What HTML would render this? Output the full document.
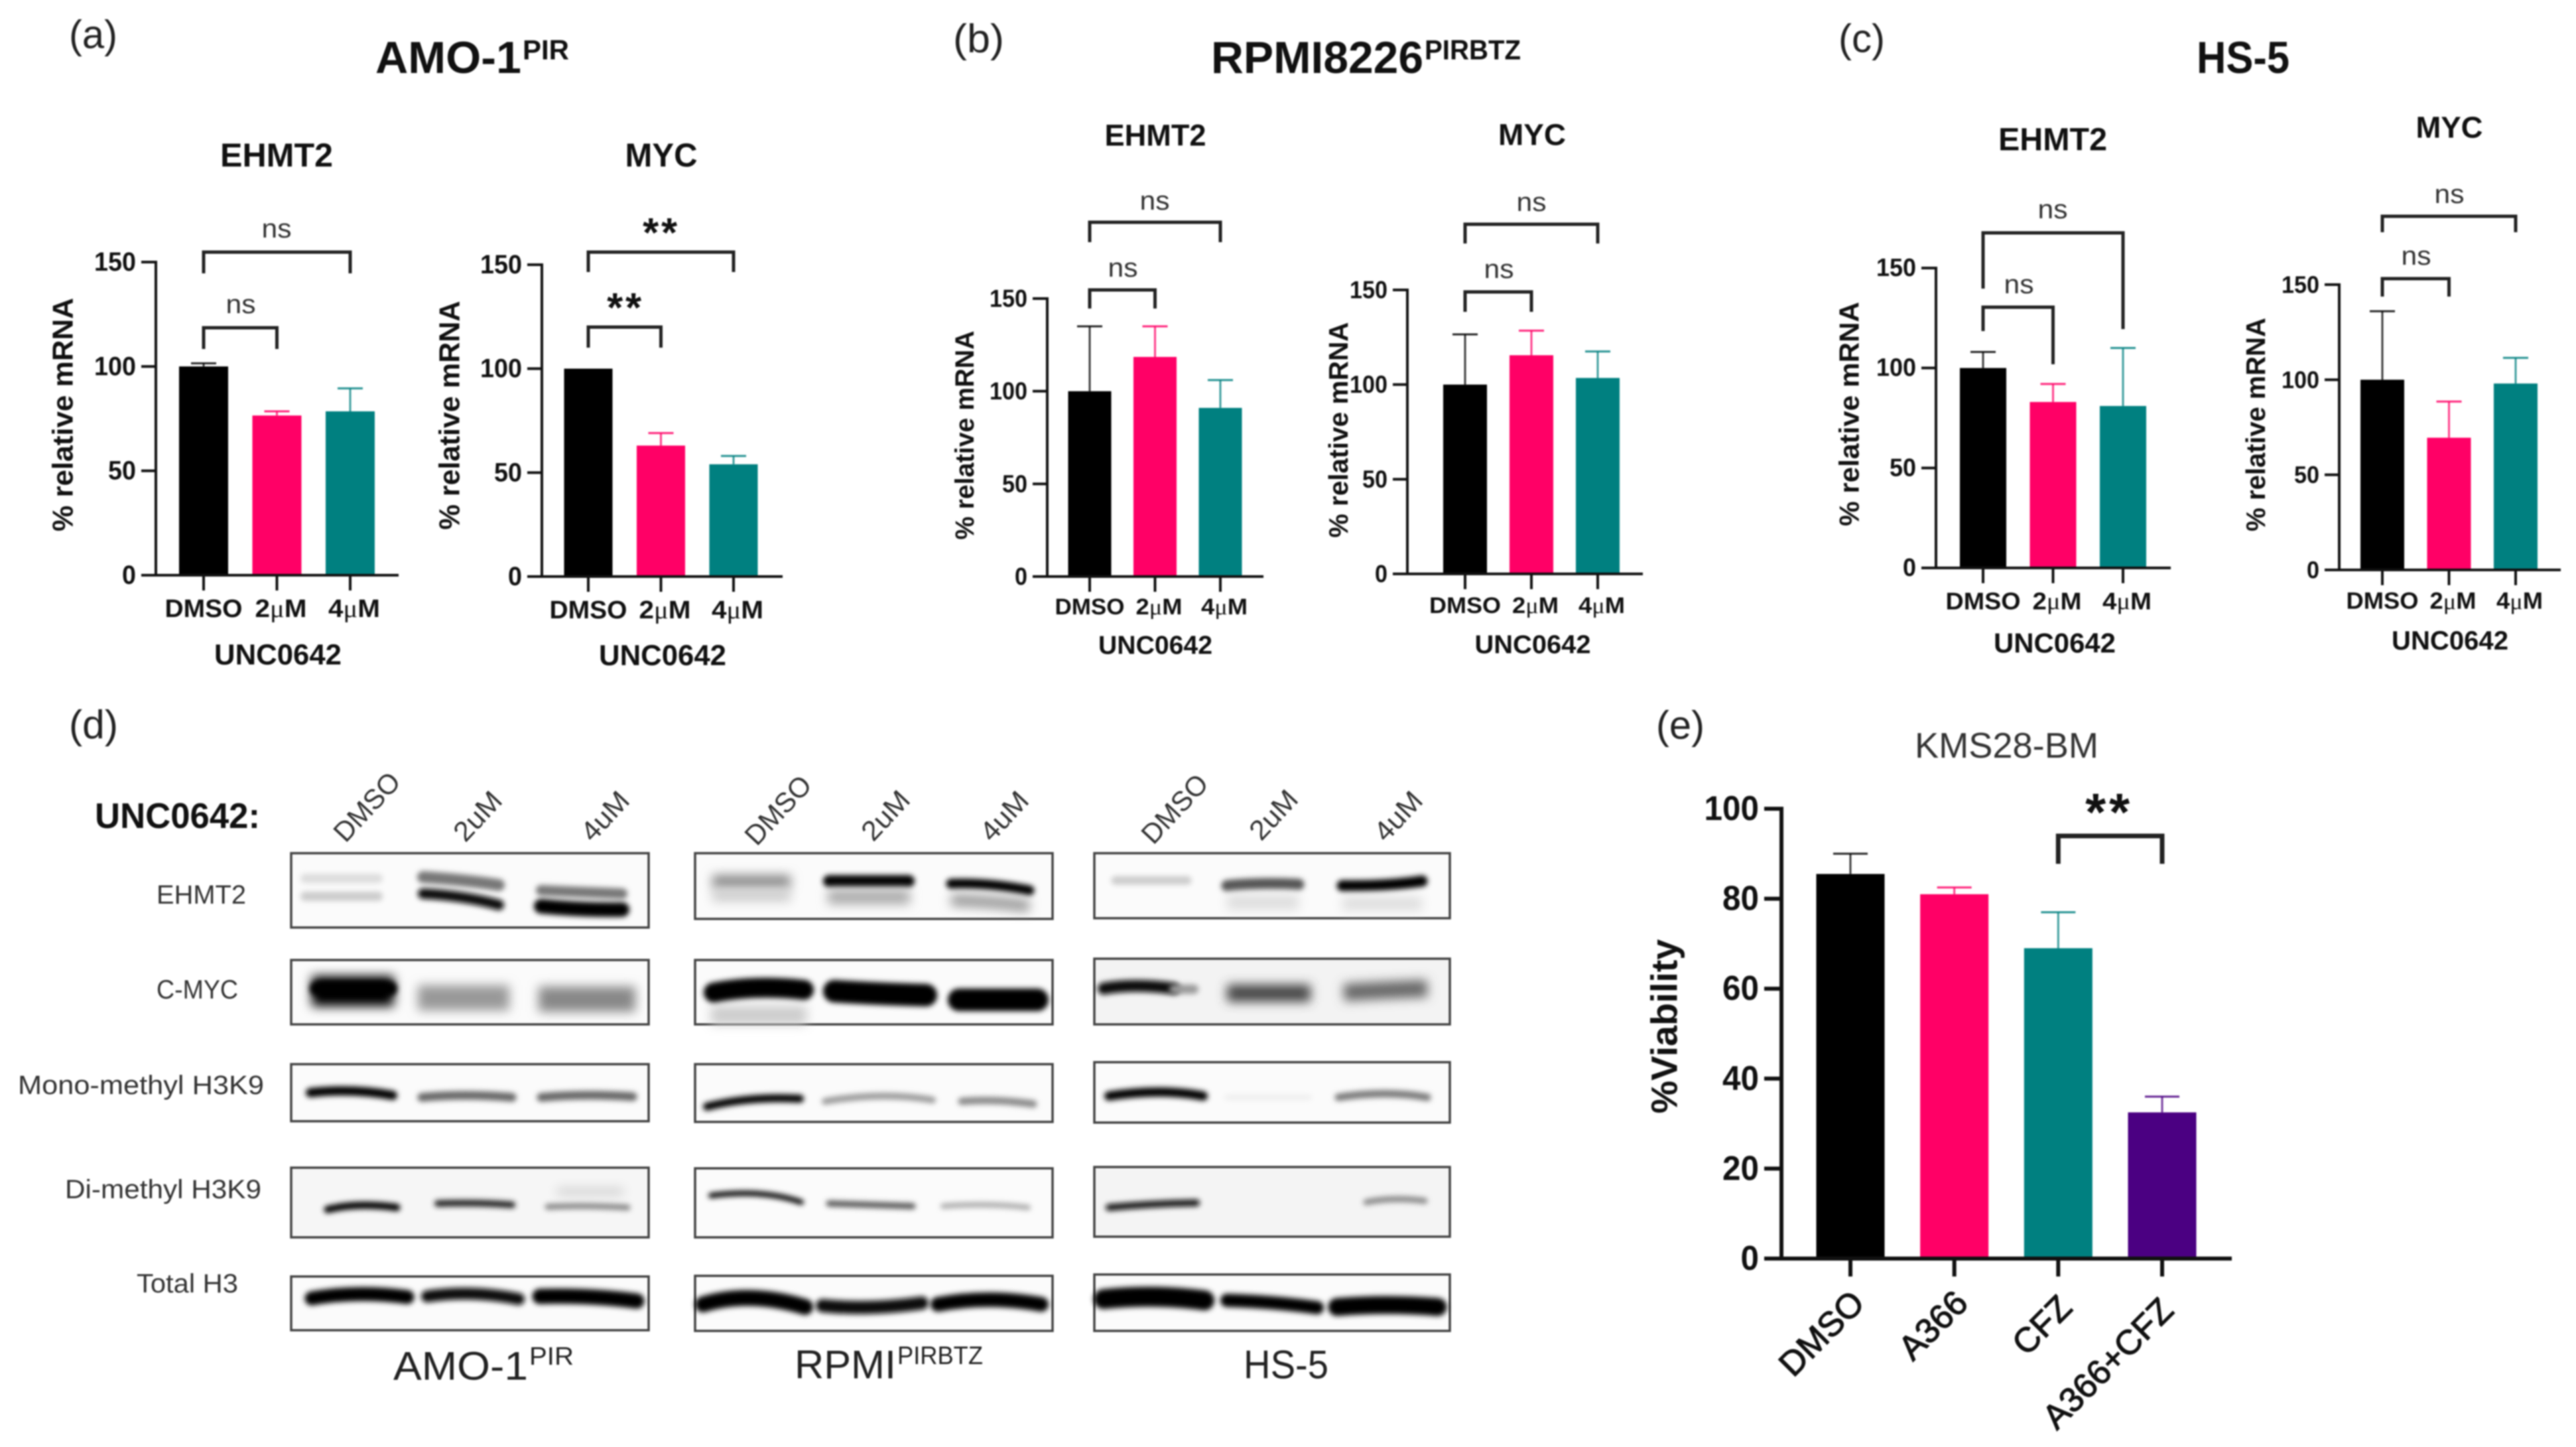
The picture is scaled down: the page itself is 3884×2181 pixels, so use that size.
<!DOCTYPE html>
<html lang="en">
<head>
<meta charset="utf-8">
<title>UNC0642 mRNA, western blot and viability figure</title>
<style>
html,body{margin:0;padding:0;background:#fff;}
body{width:3884px;height:2181px;overflow:hidden;}
svg{display:block;font-family:"Liberation Sans",sans-serif;filter:blur(1px);}
.bl{fill:none;stroke-linecap:round;filter:url(#f3);}
.hz{fill:none;stroke-linecap:butt;filter:url(#f8);}
.pn{fill:#fbfbfb;stroke:#444;stroke-width:3.5;}
.lab{fill:#333;font-size:40px;dominant-baseline:central;}
.rot{fill:#333;font-size:42px;text-anchor:middle;dominant-baseline:central;}
.pl{fill:#222;font-size:60px;dominant-baseline:central;}
</style>
</head>
<body>
<svg id="fig" xmlns="http://www.w3.org/2000/svg" width="3884" height="2181" viewBox="0 0 3884 2181">
<defs>
<filter id="f3" filterUnits="userSpaceOnUse" x="0" y="1200" width="2300" height="900"><feGaussianBlur stdDeviation="4"/></filter>
<filter id="f8" filterUnits="userSpaceOnUse" x="0" y="1200" width="2300" height="900"><feGaussianBlur stdDeviation="8"/></filter>
</defs>
<rect width="3884" height="2181" fill="#fff"/>

<text class="pl" x="104" y="52" textLength="73" lengthAdjust="spacingAndGlyphs">(a)</text>
<text class="pl" x="1437" y="58" textLength="77" lengthAdjust="spacingAndGlyphs">(b)</text>
<text class="pl" x="2772" y="58" textLength="70" lengthAdjust="spacingAndGlyphs">(c)</text>
<text class="pl" x="104" y="1092" textLength="74" lengthAdjust="spacingAndGlyphs">(d)</text>
<text class="pl" x="2497" y="1093" textLength="73" lengthAdjust="spacingAndGlyphs">(e)</text>

<text x="566" y="87" font-size="68" font-weight="bold" fill="#111" dominant-baseline="central" textLength="220" lengthAdjust="spacingAndGlyphs">AMO-1</text>
<text x="788" y="75" font-size="42" font-weight="bold" fill="#111" dominant-baseline="central" textLength="70" lengthAdjust="spacingAndGlyphs">PIR</text>
<text x="1826" y="87" font-size="68" font-weight="bold" fill="#111" dominant-baseline="central" textLength="320" lengthAdjust="spacingAndGlyphs">RPMI8226</text>
<text x="2148" y="75" font-size="42" font-weight="bold" fill="#111" dominant-baseline="central" textLength="145" lengthAdjust="spacingAndGlyphs">PIRBTZ</text>
<text x="3312" y="87" font-size="68" font-weight="bold" fill="#111" dominant-baseline="central" textLength="140" lengthAdjust="spacingAndGlyphs">HS-5</text>

<text x="143" y="1230" font-size="54" font-weight="bold" fill="#111" dominant-baseline="central" textLength="249" lengthAdjust="spacingAndGlyphs">UNC0642:</text>

<text class="rot" transform="translate(553 1216) rotate(-47)" textLength="125" lengthAdjust="spacingAndGlyphs">DMSO</text>
<text class="rot" transform="translate(720 1230) rotate(-47)" textLength="85" lengthAdjust="spacingAndGlyphs">2uM</text>
<text class="rot" transform="translate(912 1230) rotate(-47)" textLength="85" lengthAdjust="spacingAndGlyphs">4uM</text>
<text class="rot" transform="translate(1173 1221) rotate(-47)" textLength="125" lengthAdjust="spacingAndGlyphs">DMSO</text>
<text class="rot" transform="translate(1335 1229) rotate(-47)" textLength="85" lengthAdjust="spacingAndGlyphs">2uM</text>
<text class="rot" transform="translate(1514 1230) rotate(-47)" textLength="85" lengthAdjust="spacingAndGlyphs">4uM</text>
<text class="rot" transform="translate(1771 1219) rotate(-47)" textLength="125" lengthAdjust="spacingAndGlyphs">DMSO</text>
<text class="rot" transform="translate(1920 1228) rotate(-47)" textLength="85" lengthAdjust="spacingAndGlyphs">2uM</text>
<text class="rot" transform="translate(2108 1230) rotate(-47)" textLength="85" lengthAdjust="spacingAndGlyphs">4uM</text>

<text class="lab" x="236" y="1349" textLength="135" lengthAdjust="spacingAndGlyphs">EHMT2</text>
<text class="lab" x="236" y="1492" textLength="123" lengthAdjust="spacingAndGlyphs">C-MYC</text>
<text class="lab" x="27" y="1636" textLength="371" lengthAdjust="spacingAndGlyphs">Mono-methyl H3K9</text>
<text class="lab" x="98" y="1793" textLength="296" lengthAdjust="spacingAndGlyphs">Di-methyl H3K9</text>
<text class="lab" x="206" y="1935" textLength="153" lengthAdjust="spacingAndGlyphs">Total H3</text>

<!-- AMO-1 blots -->
<g>
<rect class="pn" x="439" y="1286" width="539" height="112"/>
<path class="bl" d="M460 1324H570" stroke="#ddd" stroke-width="14"/>
<path class="bl" d="M460 1351H570" stroke="#ccc" stroke-width="14"/>
<path class="bl" d="M638 1322Q700 1326 752 1334" stroke="#777" stroke-width="18"/>
<path class="bl" d="M638 1347Q700 1350 752 1364" stroke="#111" stroke-width="16"/>
<path class="bl" d="M816 1342Q880 1345 938 1347" stroke="#777" stroke-width="16"/>
<path class="bl" d="M816 1366Q880 1372 938 1371" stroke="#000" stroke-width="22"/>
</g>
<g>
<rect class="pn" x="439" y="1447" width="539" height="97"/>
<path class="hz" d="M470 1494H594" stroke="#000" stroke-width="46"/>
<path class="bl" d="M478 1490H588" stroke="#000" stroke-width="22"/>
<path class="hz" d="M630 1504H768" stroke="#999" stroke-width="38"/>
<path class="hz" d="M812 1506H958" stroke="#888" stroke-width="38"/>
</g>
<g>
<rect class="pn" x="439" y="1604" width="539" height="86"/>
<path class="bl" d="M468 1647Q530 1640 592 1651" stroke="#000" stroke-width="14"/>
<path class="bl" d="M636 1654Q700 1648 772 1654" stroke="#666" stroke-width="13"/>
<path class="bl" d="M816 1654Q880 1648 954 1653" stroke="#666" stroke-width="13"/>
</g>
<g>
<rect class="pn" x="439" y="1760" width="539" height="105" style="fill:#f6f6f6"/>
<path class="bl" d="M494 1823Q540 1812 598 1820" stroke="#000" stroke-width="11"/>
<path class="bl" d="M660 1814Q720 1812 772 1816" stroke="#222" stroke-width="10"/>
<path class="bl" d="M826 1819Q880 1816 946 1820" stroke="#888" stroke-width="9"/>
<path class="hz" d="M840 1796H940" stroke="#ccc" stroke-width="10"/>
</g>
<g>
<rect class="pn" x="439" y="1924" width="539" height="81"/>
<path class="bl" d="M470 1957Q540 1945 614 1955" stroke="#000" stroke-width="21"/>
<path class="bl" d="M644 1954Q710 1944 782 1958" stroke="#111" stroke-width="18"/>
<path class="bl" d="M814 1954Q890 1952 960 1961" stroke="#000" stroke-width="23"/>
</g>

<!-- RPMI blots -->
<g>
<rect class="pn" x="1048" y="1286" width="539" height="99"/>
<path class="hz" d="M1074 1329H1192" stroke="#888" stroke-width="20"/>
<path class="hz" d="M1074 1350H1192" stroke="#ccc" stroke-width="18"/>
<path class="bl" d="M1250 1328H1370" stroke="#000" stroke-width="18"/>
<path class="hz" d="M1248 1352H1372" stroke="#aaa" stroke-width="22"/>
<path class="bl" d="M1434 1332Q1490 1330 1552 1342" stroke="#000" stroke-width="15"/>
<path class="hz" d="M1434 1357Q1490 1358 1552 1366" stroke="#999" stroke-width="18"/>
</g>
<g>
<rect class="pn" x="1048" y="1447" width="539" height="97"/>
<path class="hz" d="M1072 1530H1216" stroke="#ccc" stroke-width="28"/>
<path class="bl" d="M1076 1496Q1140 1484 1212 1492" stroke="#000" stroke-width="30"/>
<path class="bl" d="M1258 1494Q1320 1498 1396 1500" stroke="#000" stroke-width="34"/>
<path class="bl" d="M1446 1507H1564" stroke="#000" stroke-width="34"/>
</g>
<g>
<rect class="pn" x="1048" y="1604" width="539" height="87"/>
<path class="bl" d="M1066 1668Q1130 1652 1206 1656" stroke="#000" stroke-width="12"/>
<path class="bl" d="M1244 1660Q1330 1645 1406 1658" stroke="#999" stroke-width="10"/>
<path class="bl" d="M1450 1660Q1500 1656 1558 1664" stroke="#888" stroke-width="11"/>
</g>
<g>
<rect class="pn" x="1048" y="1761" width="539" height="104"/>
<path class="bl" d="M1072 1802Q1150 1792 1208 1812" stroke="#000" stroke-width="8"/>
<path class="bl" d="M1250 1814Q1320 1816 1376 1818" stroke="#555" stroke-width="9"/>
<path class="bl" d="M1422 1818Q1490 1813 1550 1820" stroke="#aaa" stroke-width="8"/>
</g>
<g>
<rect class="pn" x="1048" y="1923" width="539" height="83"/>
<path class="bl" d="M1060 1966Q1130 1945 1214 1970" stroke="#000" stroke-width="24"/>
<path class="bl" d="M1240 1968Q1310 1975 1390 1964" stroke="#111" stroke-width="20"/>
<path class="bl" d="M1414 1966Q1490 1952 1570 1966" stroke="#000" stroke-width="22"/>
</g>

<!-- HS-5 blots -->
<g>
<rect class="pn" x="1650" y="1286" width="536" height="98"/>
<path class="bl" d="M1682 1327H1790" stroke="#ccc" stroke-width="13"/>
<path class="bl" d="M1850 1335Q1900 1330 1958 1333" stroke="#555" stroke-width="17"/>
<path class="hz" d="M1850 1360H1958" stroke="#ddd" stroke-width="22"/>
<path class="bl" d="M2024 1335Q2090 1336 2144 1328" stroke="#000" stroke-width="17"/>
<path class="hz" d="M2024 1362H2144" stroke="#ddd" stroke-width="20"/>
</g>
<g>
<rect class="pn" x="1650" y="1445" width="536" height="99" style="fill:#f3f3f3"/>
<path class="bl" d="M1664 1490Q1710 1482 1770 1490" stroke="#111" stroke-width="18"/>
<path class="bl" d="M1770 1491H1800" stroke="#999" stroke-width="14"/>
<path class="hz" d="M1850 1497H1976" stroke="#444" stroke-width="26"/>
<path class="hz" d="M2026 1496Q2090 1492 2152 1490" stroke="#666" stroke-width="26"/>
</g>
<g>
<rect class="pn" x="1650" y="1601" width="536" height="91"/>
<path class="bl" d="M1672 1652Q1750 1640 1814 1652" stroke="#000" stroke-width="14"/>
<path class="bl" d="M1850 1654H1974" stroke="#eee" stroke-width="8"/>
<path class="bl" d="M2018 1654Q2090 1643 2152 1654" stroke="#777" stroke-width="11"/>
</g>
<g>
<rect class="pn" x="1650" y="1759" width="536" height="105" style="fill:#f4f4f4"/>
<path class="bl" d="M1672 1820Q1740 1814 1804 1813" stroke="#111" stroke-width="10"/>
<path class="bl" d="M2060 1812Q2100 1804 2148 1810" stroke="#888" stroke-width="9"/>
</g>
<g>
<rect class="pn" x="1650" y="1921" width="536" height="85"/>
<path class="bl" d="M1664 1958Q1740 1950 1816 1960" stroke="#000" stroke-width="30"/>
<path class="bl" d="M1850 1960Q1920 1962 1986 1971" stroke="#000" stroke-width="20"/>
<path class="bl" d="M2016 1970Q2090 1964 2168 1970" stroke="#000" stroke-width="27"/>
</g>

<text x="593" y="2059" font-size="60" fill="#222" dominant-baseline="central" textLength="203" lengthAdjust="spacingAndGlyphs">AMO-1</text>
<text x="798" y="2045" font-size="38" fill="#222" dominant-baseline="central" textLength="67" lengthAdjust="spacingAndGlyphs">PIR</text>
<text x="1198" y="2057" font-size="60" fill="#222" dominant-baseline="central" textLength="153" lengthAdjust="spacingAndGlyphs">RPMI</text>
<text x="1353" y="2044" font-size="38" fill="#222" dominant-baseline="central" textLength="129" lengthAdjust="spacingAndGlyphs">PIRBTZ</text>
<text x="1875" y="2057" font-size="60" fill="#222" dominant-baseline="central" textLength="128" lengthAdjust="spacingAndGlyphs">HS-5</text>

<text x="2887" y="1124" font-size="54" fill="#333" dominant-baseline="central" textLength="277" lengthAdjust="spacingAndGlyphs">KMS28-BM</text>
</svg>

<script>
// ---- chart data ----
const mrnaCategories = ['DMSO', '2\u03bcM', '4\u03bcM'];
const viabilityCategories = ['DMSO', 'A366', 'CFZ', 'A366+CFZ'];
const mrnaTickLabels = [0, 50, 100, 150];
const viabilityTickLabels = [0, 20, 40, 60, 80, 100];

const amoEhmt2Values = [100, 76.5, 78.5];
const amoEhmt2Errors = [1.5, 2, 11];
const amoMycValues = [100, 63, 54];
const amoMycErrors = [0, 6, 4];
const rpmiEhmt2Values = [100, 118.5, 91];
const rpmiEhmt2Errors = [35, 16.5, 15];
const rpmiMycValues = [100, 115.5, 103.5];
const rpmiMycErrors = [26.5, 13, 14];
const hsEhmt2Values = [100, 83, 81];
const hsEhmt2Errors = [8, 9, 29];
const hsMycValues = [100, 69.5, 98];
const hsMycErrors = [36, 19, 13.5];
const viabilityValues = [85.5, 81, 69, 32.5];
const viabilityErrors = [4.5, 1.5, 8, 3.5];

const barColors = ['#000000', '#ff0066', '#008080', '#4b0082'];

// ---- layout (pixels) ----
const chartLayouts = [
  {key:'amo1-ehmt2', cats:mrnaCategories, vals:amoEhmt2Values, errs:amoEhmt2Errors, ticks:mrnaTickLabels,
   axisX:235, xEnd:601, y0:867, yTop:395, cat0:307, catN:528, barW:74, tickFont:40, digitW:21,
   title:'EHMT2', titleX:417, titleY:234, titleFont:50, titleW:170,
   yTitleX:95, yTitleY:625, yTitleFont:44, yTitleW:352,
   catY:918, catFont:38, catW:[117,78,78], catDx:[0,6,6], unitY:987, unitX:419, unitFont:44, unitW:192,
   brackets:[{a:0,b:2,y:380,la:412,lb:412,text:'ns',tx:417,ty:345},{a:0,b:1,y:494,la:526,lb:526,text:'ns',tx:363,ty:459}]},
  {key:'amo1-myc', cats:mrnaCategories, vals:amoMycValues, errs:amoMycErrors, ticks:mrnaTickLabels,
   axisX:817, xEnd:1180, y0:869, yTop:399, cat0:887, catN:1106, barW:73, tickFont:40, digitW:21,
   title:'MYC', titleX:997, titleY:234, titleFont:50, titleW:109,
   yTitleX:678, yTitleY:626, yTitleFont:44, yTitleW:345,
   catY:920, catFont:38, catW:[117,78,78], catDx:[0,6,6], unitY:988, unitX:999, unitFont:44, unitW:192,
   brackets:[{a:0,b:2,y:380,la:410,lb:410,text:'**',tx:997,ty:346},{a:0,b:1,y:493,la:524,lb:524,text:'**',tx:943,ty:459}]},
  {key:'rpmi-ehmt2', cats:mrnaCategories, vals:rpmiEhmt2Values, errs:rpmiEhmt2Errors, ticks:mrnaTickLabels,
   axisX:1579, xEnd:1905, y0:869, yTop:450, cat0:1643, catN:1840, barW:65, tickFont:37, digitW:19,
   title:'EHMT2', titleX:1742, titleY:204, titleFont:45, titleW:153,
   yTitleX:1455, yTitleY:656, yTitleFont:40, yTitleW:315,
   catY:915, catFont:34, catW:[105,70,70], catDx:[0,6,6], unitY:973, unitX:1742, unitFont:39, unitW:172,
   brackets:[{a:0,b:2,y:335,la:365,lb:365,text:'ns',tx:1741,ty:303},{a:0,b:1,y:437,la:465,lb:465,text:'ns',tx:1693,ty:404}]},
  {key:'rpmi-myc', cats:mrnaCategories, vals:rpmiMycValues, errs:rpmiMycErrors, ticks:mrnaTickLabels,
   axisX:2122, xEnd:2477, y0:865, yTop:437, cat0:2209, catN:2409, barW:66, tickFont:37, digitW:19,
   title:'MYC', titleX:2310, titleY:203, titleFont:45, titleW:102,
   yTitleX:2018, yTitleY:648, yTitleFont:41, yTitleW:325,
   catY:913, catFont:34, catW:[108,70,70], catDx:[0,6,6], unitY:972, unitX:2311, unitFont:39, unitW:175,
   brackets:[{a:0,b:2,y:338,la:367,lb:367,text:'ns',tx:2309,ty:305},{a:0,b:1,y:440,la:470,lb:470,text:'ns',tx:2260,ty:406}]},
  {key:'hs5-ehmt2', cats:mrnaCategories, vals:hsEhmt2Values, errs:hsEhmt2Errors, ticks:mrnaTickLabels,
   axisX:2919, xEnd:3273, y0:856, yTop:404, cat0:2990, catN:3201, barW:70, tickFont:38, digitW:20,
   title:'EHMT2', titleX:3095, titleY:211, titleFont:48, titleW:164,
   yTitleX:2788, yTitleY:624, yTitleFont:42, yTitleW:338,
   catY:906, catFont:36, catW:[113,74,74], catDx:[0,6,6], unitY:969, unitX:3098, unitFont:42, unitW:184,
   brackets:[{a:0,b:2,y:351,la:435,lb:496,text:'ns',tx:3095,ty:316},{a:0,b:1,y:463,la:499,lb:549,text:'ns',tx:3044,ty:429}]},
  {key:'hs5-myc', cats:mrnaCategories, vals:hsMycValues, errs:hsMycErrors, ticks:mrnaTickLabels,
   axisX:3527, xEnd:3861, y0:859, yTop:429, cat0:3592, catN:3793, barW:66, tickFont:36, digitW:19,
   title:'MYC', titleX:3693, titleY:192, titleFont:45, titleW:101,
   yTitleX:3401, yTitleY:640, yTitleFont:41, yTitleW:322,
   catY:906, catFont:35, catW:[109,70,70], catDx:[0,6,6], unitY:966, unitX:3694, unitFont:40, unitW:176,
   brackets:[{a:0,b:2,y:326,la:350,lb:350,text:'ns',tx:3693,ty:293},{a:0,b:1,y:420,la:447,lb:447,text:'ns',tx:3643,ty:386}]},
  {key:'viability', cats:viabilityCategories, vals:viabilityValues, errs:viabilityErrors, ticks:viabilityTickLabels,
   axisX:2686, xEnd:3365, y0:1897, yTop:1219, cat0:2790, catN:3260, barW:103, tickFont:52, digitW:27.5,
   axisW:6, tickLen:26, capW:52, starFont:80, bracketW:7,
   yTitleX:2509, yTitleY:1547, yTitleFont:56, yTitleW:263, yTitleText:'%Viability',
   rotated:true, catFont:52,
   rotEnd:[[2802,1955],[2958,1955],[3115,1962],[3268,1966]],
   brackets:[{a:2,b:3,y:1260,la:1302,lb:1302,text:'**',tx:3180,ty:1217}]}
];

// ---- drawing ----
const SVGNS = 'http://www.w3.org/2000/svg';
const fig = document.getElementById('fig');
function node(tag, attrs, parent) {
  const el = document.createElementNS(SVGNS, tag);
  for (const k in attrs) el.setAttribute(k, attrs[k]);
  parent.appendChild(el);
  return el;
}
function label(parent, str, x, y, font, width, weight, anchor, fill) {
  const el = node('text', {x:x, y:y, 'font-size':font, 'font-weight':weight, 'text-anchor':anchor,
    'dominant-baseline':'central', fill:fill}, parent);
  if (str.indexOf('\u03bc') >= 0) {
    const parts = str.split('\u03bc');
    el.appendChild(document.createTextNode(parts[0]));
    const mu = node('tspan', {'font-family':'"Liberation Serif",serif', 'font-weight':'normal'}, el);
    mu.textContent = '\u03bc';
    el.appendChild(document.createTextNode(parts[1]));
  } else {
    el.textContent = str;
  }
  if (width) {
    el.setAttribute('textLength', width);
    el.setAttribute('lengthAdjust', 'spacingAndGlyphs');
  }
  return el;
}

function drawChart(c) {
  const g = node('g', {}, fig);
  
  

  const maxTick = c.ticks[c.ticks.length - 1];
  const yScale = function (v) { return c.y0 - (v / maxTick) * (c.y0 - c.yTop); };
  const xScale = function (i) { return c.cat0 + i * (c.catN - c.cat0) / (c.cats.length - 1); };
  const axisW = c.axisW || 4;
  const tickLen = c.tickLen || 22;
  const capW = c.capW || 38;

  c.vals.forEach(function (v, i) {
    const col = barColors[i];
    const top = yScale(v + c.errs[i]);
    if (c.errs[i] > 0) {
      const stem = node('line', {x1:xScale(i), x2:xScale(i), y1:yScale(v), y2:top, stroke:col, 'stroke-width':3, opacity:0.75}, g);
      
      
      const cap = node('line', {x1:xScale(i) - capW / 2, x2:xScale(i) + capW / 2, y1:top, y2:top, stroke:col, 'stroke-width':3, opacity:0.85}, g);
      
      
    }
    const bar = node('rect', {x:xScale(i) - c.barW / 2, y:yScale(v), width:c.barW, height:yScale(0) - yScale(v), fill:col}, g);
    
    
  });

  const yAxis = node('line', {x1:c.axisX, x2:c.axisX, y1:c.yTop - axisW / 2, y2:c.y0, stroke:'#111', 'stroke-width':axisW}, g);
  
  
  const xAxis = node('line', {x1:c.axisX - tickLen, x2:c.xEnd, y1:c.y0, y2:c.y0, stroke:'#111', 'stroke-width':axisW}, g);
  
  

  c.ticks.forEach(function (t) {
    const y = yScale(t);
    const tick = node('line', {x1:c.axisX - tickLen, x2:c.axisX, y1:y, y2:y, stroke:'#111', 'stroke-width':axisW}, g);
    
    
    const s = String(t);
    const tl = label(g, s, c.axisX - tickLen - 8, y, c.tickFont, c.digitW * s.length, 'bold', 'end', '#111');
    
    
  });

  c.cats.forEach(function (name, i) {
    const tick = node('line', {x1:xScale(i), x2:xScale(i), y1:c.y0, y2:c.y0 + tickLen + 1, stroke:'#111', 'stroke-width':axisW}, g);
    
    
    let cl;
    if (c.rotated) {
      cl = label(g, name, 0, 0, c.catFont, 0, 'normal', 'end', '#111');
      cl.setAttribute('transform', 'translate(' + c.rotEnd[i][0] + ' ' + c.rotEnd[i][1] + ') rotate(-45)');
      cl.setAttribute('stroke', '#111');
      cl.setAttribute('stroke-width', '1.2');
    } else {
      cl = label(g, name, xScale(i) + c.catDx[i], c.catY, c.catFont, c.catW[i], 'bold', 'middle', '#111');
    }
    
    
  });

  const yt = label(g, c.yTitleText || '% relative mRNA', 0, 0, c.yTitleFont, c.yTitleW, 'bold', 'middle', '#111');
  yt.setAttribute('transform', 'translate(' + c.yTitleX + ' ' + c.yTitleY + ') rotate(-90)');
  
  

  if (c.title) {
    const ti = label(g, c.title, c.titleX, c.titleY, c.titleFont, c.titleW, 'bold', 'middle', '#111');
    
    
  }
  if (c.unitY) {
    const un = label(g, 'UNC0642', c.unitX, c.unitY, c.unitFont, c.unitW, 'bold', 'middle', '#111');
    
    
  }

  c.brackets.forEach(function (b, i) {
    const xa = xScale(b.a);
    const xb = xScale(b.b);
    const d = 'M' + xa + ' ' + b.la + 'V' + b.y + 'H' + xb + 'V' + b.lb;
    const path = node('path', {d:d, fill:'none', stroke:'#222', 'stroke-width':c.bracketW || 5}, g);
    
    
    let sig;
    if (b.text === '**') {
      const size = c.starFont || 62;
      sig = label(g, b.text, b.tx, b.ty + size * 0.09, size, 0, 'bold', 'middle', '#111');
      sig.setAttribute('letter-spacing', size * 0.06);
    } else {
      sig = label(g, b.text, b.tx, b.ty, 40, 45, 'normal', 'middle', '#333');
    }
    
    
  });
}
chartLayouts.forEach(drawChart);
</script>
</body>
</html>
